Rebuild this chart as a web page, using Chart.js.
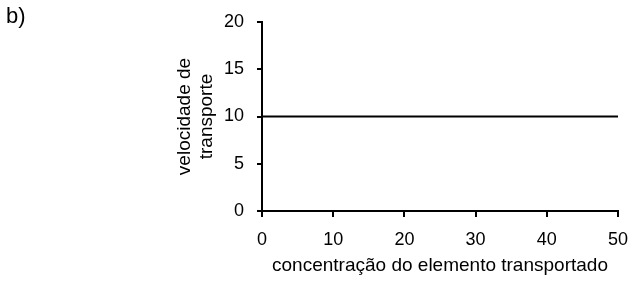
<!DOCTYPE html>
<html>
<head>
<meta charset="utf-8">
<script src="https://cdn.jsdelivr.net/npm/chart.js@4/dist/chart.umd.min.js"></script>
<style>
  html, body { margin: 0; padding: 0; background: #fff; }
  #wrap { position: relative; width: 631px; height: 285px; }
  #label { position: absolute; left: 6px; top: 5px; font: 22px "Liberation Sans", Arial, sans-serif; line-height: 1; color: #000; }
</style>
</head>
<body>
<div id="wrap">
  <canvas id="chart" width="631" height="285"></canvas>
  <div id="label">b)</div>
</div>
<script>
// data
const xValues = [0, 50];
const yValues = [10, 10];
const xTitle = "concentração do elemento transportado";
const yTitle = ["velocidade de", "transporte"];

const fontFamily = '"Liberation Sans", Arial, sans-serif';
const ctx = document.getElementById("chart").getContext("2d");

new Chart(ctx, {
    type: "scatter",
    data: {
        datasets: [{
            data: xValues.map((x, i) => ({ x: x, y: yValues[i] })),
            showLine: true,
            borderColor: "#000",
            borderWidth: 2,
            pointRadius: 0,
            fill: false,
        }],
    },
    options: {
        responsive: false,
        animation: false,
        layout: { padding: { left: 170, top: 22, right: 13, bottom: 0 } },
        plugins: {
            legend: { display: false },
            tooltip: { enabled: false }
        },
        scales: {
            x: {
                type: "linear",
                min: 0,
                max: 50,
                afterFit: function(scale) {
                    scale.height = 74;
                    scale.paddingLeft = 0;
                    scale.paddingRight = 0;
                },
                border: { color: "#000", width: 2 },
                grid: { drawOnChartArea: false, tickLength: 6, color: "#000", lineWidth: 2 },
                ticks: { stepSize: 10, padding: 12, color: "#000", font: { family: fontFamily, size: 18 } },
                title: {
                    display: true,
                    text: xTitle,
                    color: "#000",
                    font: { family: fontFamily, size: 19, lineHeight: 22 / 19 },
                    padding: { top: 0, bottom: 8 }
                }
            },
            y: {
                min: 0,
                max: 20,
                afterFit: function(scale) {
                    scale.width = 92;
                    scale.paddingTop = 0;
                    scale.paddingBottom = 0;
                },
                border: { color: "#000", width: 2 },
                grid: { drawOnChartArea: false, tickLength: 5, color: "#000", lineWidth: 2 },
                ticks: { stepSize: 5, padding: 13, color: "#000", font: { family: fontFamily, size: 18 } },
                title: {
                    display: true,
                    text: yTitle,
                    color: "#000",
                    font: { family: fontFamily, size: 19, lineHeight: 22 / 19 },
                    padding: { top: 4, bottom: 0 }
                }
            }
        }
    }
});
</script>
</body>
</html>
